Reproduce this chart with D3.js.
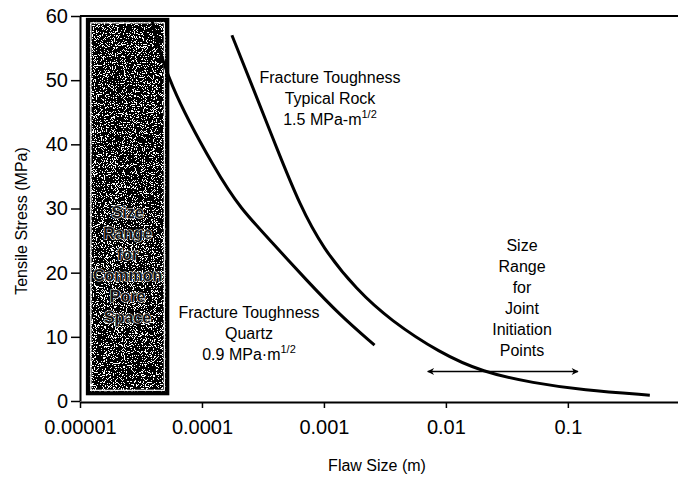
<!DOCTYPE html>
<html>
<head>
<meta charset="utf-8">
<script src="https://cdn.jsdelivr.net/npm/d3@7"></script>
<style>
	body { margin: 0; background: #fff; }
	text { font-family: "Liberation Sans", Arial, sans-serif; fill: #000; }
</style>
</head>
<body>
<script>
// chart values
const xTicks = [1e-5, 1e-4, 1e-3, 1e-2, 1e-1];
const xTickLabels = ['0.00001', '0.0001', '0.001', '0.01', '0.1'];
const yTicks = [0, 10, 20, 30, 40, 50, 60];

// quartz curve (flaw size m, stress MPa)
const quartzSize = [3.9e-5, 5.2e-5, 1.33e-4, 2.05e-4, 3.8e-4, 7.3e-4, 1.35e-3, 2.6e-3];
const quartzStress = [59.2, 49.7, 35.5, 30.1, 24.6, 18.7, 13.4, 8.7];

// typical rock curve
const rockSize = [1.76e-4, 2.62e-4, 4.1e-4, 6.35e-4, 9.8e-4, 1.86e-3, 3.5e-3, 8.9e-3, 0.02, 0.052, 0.133, 0.47];
const rockStress = [57.0, 48.8, 39.4, 30.5, 23.8, 17.3, 12.6, 7.5, 4.5, 2.8, 1.7, 0.9];

// pore space box and joint initiation range
const poreSize = [1.16e-5, 5.2e-5];
const poreStress = [1.2, 59.4];
const jointSize = [0.0071, 0.121];
const jointStress = 4.6;

const W = 678, H = 484;
const BLACK = '#000';

const svg = d3.select('body')
	.append('svg')
	.attr('width', W)
	.attr('height', H);

const x = d3.scaleLog().domain([1e-5, 0.8]).range([80, 678]);
const y = d3.scaleLinear().domain([0, 60]).range([401, 16]);

//#region defs
const defs = svg.append('defs');
const filter = defs.append('filter')
	.attr('id', 'stipple')
	.attr('x', 0).attr('y', 0).attr('width', 1).attr('height', 1);
filter.append('feTurbulence')
	.attr('type', 'fractalNoise')
	.attr('baseFrequency', 0.9)
	.attr('numOctaves', 2)
	.attr('seed', 7)
	.attr('result', 'noise');
filter.append('feColorMatrix')
	.attr('type', 'matrix')
	.attr('values', '0.45 0.45 0.45 0 -0.24  0.45 0.45 0.45 0 -0.24  0.45 0.45 0.45 0 -0.24  0 0 0 0 1')
	.attr('result', 'gray');
const ct = filter.append('feComponentTransfer').attr('in', 'gray').attr('result', 'bw');
['feFuncR', 'feFuncG', 'feFuncB'].forEach(f => ct.append(f).attr('type', 'discrete').attr('tableValues', '0 1'));
filter.append('feComposite').attr('in', 'bw').attr('in2', 'SourceGraphic').attr('operator', 'in');

defs.append('marker')
	.attr('id', 'arrow')
	.attr('viewBox', '0 0 10 10')
	.attr('refX', 9)
	.attr('refY', 5)
	.attr('markerWidth', 9)
	.attr('markerHeight', 7)
	.attr('markerUnits', 'userSpaceOnUse')
	.attr('orient', 'auto-start-reverse')
	.append('path')
	.attr('d', 'M 0 0 L 10 5 L 0 10 L 3 5 z')
	.attr('fill', BLACK);
//#endregion

//#region pore space box
const bx0 = x(poreSize[0]), bx1 = x(poreSize[1]);
const by0 = y(poreStress[1]), by1 = y(poreStress[0]);

svg.append('rect')
	.attr('x', bx0).attr('y', by0)
	.attr('width', bx1 - bx0).attr('height', by1 - by0)
	.attr('fill', '#000')
	.attr('filter', 'url(#stipple)');

svg.append('rect')
	.attr('x', bx0 + 3).attr('y', by0 + 3)
	.attr('width', bx1 - bx0 - 6).attr('height', by1 - by0 - 6)
	.attr('fill', 'none')
	.attr('stroke', '#fff')
	.attr('stroke-width', 1.2);

svg.append('rect')
	.attr('x', bx0).attr('y', by0)
	.attr('width', bx1 - bx0).attr('height', by1 - by0)
	.attr('fill', 'none')
	.attr('stroke', BLACK)
	.attr('stroke-width', 4);

const poreLines = ['Size', 'Range', 'for', 'Common', 'Pore', 'Space'];
svg.append('g')
	.selectAll('text')
	.data(poreLines)
	.enter()
	.append('text')
	.attr('x', (bx0 + bx1) / 2)
	.attr('y', (d, i) => 218 + i * 21)
	.attr('text-anchor', 'middle')
	.attr('font-size', 16)
	.attr('font-weight', 'bold')
	.attr('stroke', '#fff')
	.attr('stroke-width', 1)
	.attr('paint-order', 'stroke')
	.style('fill', '#111')
	.text(d => d);
//#endregion

//#region axes
const xAxis = svg.append('g')
	.attr('transform', `translate(0,${y(0) + 1})`)
	.call(d3.axisBottom(x)
		.tickValues(xTicks)
		.tickFormat((d, i) => xTickLabels[i])
		.tickSize(6)
		.tickSizeOuter(0)
		.tickPadding(12));

const yAxis = svg.append('g')
	.attr('transform', `translate(${x(1e-5)},0)`)
	.call(d3.axisLeft(y)
		.tickValues(yTicks)
		.tickSize(9)
		.tickSizeOuter(0)
		.tickPadding(3));

[xAxis, yAxis].forEach(a => {
	a.select('.domain').attr('stroke-width', 2);
	a.selectAll('.tick line').attr('stroke-width', 1.5);
	a.selectAll('.tick text')
		.attr('font-size', 20)
		.attr('font-family', '"Liberation Sans", Arial, sans-serif');
});

// top border line
svg.append('line')
	.attr('x1', x(1e-5)).attr('x2', W)
	.attr('y1', y(60)).attr('y2', y(60))
	.attr('stroke', BLACK)
	.attr('stroke-width', 2);

svg.append('text')
	.attr('x', 377)
	.attr('y', 471)
	.attr('text-anchor', 'middle')
	.attr('font-size', 16)
	.text('Flaw Size (m)');

svg.append('text')
	.attr('transform', 'translate(27,221) rotate(-90)')
	.attr('text-anchor', 'middle')
	.attr('font-size', 16)
	.text('Tensile Stress (MPa)');
//#endregion

//#region curves
const line = d3.line()
	.x(d => x(d[0]))
	.y(d => y(d[1]))
	.curve(d3.curveBasis);

svg.append('path')
	.datum(quartzSize.map((s, i) => [s, quartzStress[i]]))
	.attr('d', line)
	.attr('fill', 'none')
	.attr('stroke', BLACK)
	.attr('stroke-width', 3);

svg.append('path')
	.datum(rockSize.map((s, i) => [s, rockStress[i]]))
	.attr('d', line)
	.attr('fill', 'none')
	.attr('stroke', BLACK)
	.attr('stroke-width', 3);

svg.append('line')
	.attr('x1', x(jointSize[0])).attr('x2', x(jointSize[1]))
	.attr('y1', y(jointStress)).attr('y2', y(jointStress))
	.attr('stroke', BLACK)
	.attr('stroke-width', 1.5)
	.attr('marker-start', 'url(#arrow)')
	.attr('marker-end', 'url(#arrow)');
//#endregion

//#region labels
function addLabel(lines, cx, y0, step) {
	const g = svg.append('g');
	lines.forEach((l, i) => {
		const t = g.append('text')
			.attr('x', cx)
			.attr('y', y0 + i * step)
			.attr('text-anchor', 'middle')
			.attr('font-size', 16);
		if (typeof l === 'object') {
			t.append('tspan').text(l.text);
			t.append('tspan')
				.attr('font-size', 11)
				.attr('dy', -7)
				.text(l.sup);
		} else {
			t.text(l);
		}
	});
}

addLabel(['Fracture Toughness', 'Typical Rock', { text: '1.5 MPa-m', sup: '1/2' }], 330, 83, 21);
addLabel(['Fracture Toughness', 'Quartz', { text: '0.9 MPa·m', sup: '1/2' }], 249, 318, 21);
addLabel(['Size', 'Range', 'for', 'Joint', 'Initiation', 'Points'], 522, 251, 21);
//#endregion
</script>
</body>
</html>
